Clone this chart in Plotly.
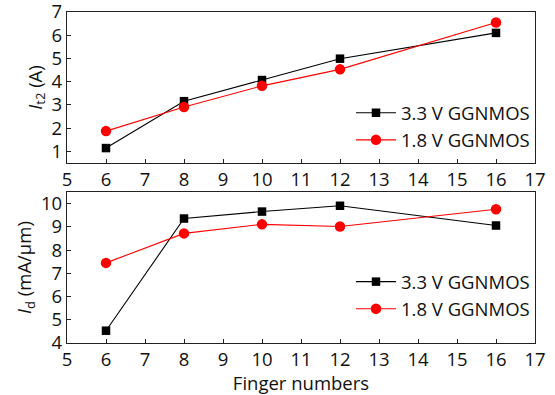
import plotly.graph_objects as go

fingers = [6, 8, 10, 12, 16]
it2_33 = [1.14, 3.16, 4.07, 4.99, 6.10]
it2_18 = [1.87, 2.91, 3.82, 4.53, 6.55]
id_33 = [4.53, 9.36, 9.66, 9.91, 9.06]
id_18 = [7.45, 8.72, 9.11, 9.02, 9.76]
names = ["3.3 V GGNMOS", "1.8 V GGNMOS"]

FONT = "Open Sans"
FS = 18.5
fig = go.Figure()

def add(y, name, color, symbol, xa, ya, legend, size):
    fig.add_trace(go.Scatter(
        x=fingers, y=y, name=name, mode="lines+markers",
        line=dict(color=color, width=1.1),
        marker=dict(color=color, symbol=symbol, size=size),
        xaxis=xa, yaxis=ya, legend=legend))

add(it2_33, names[0], "black", "square", "x", "y", "legend", 8.5)
add(it2_18, names[1], "red", "circle", "x", "y", "legend", 10.5)
add(id_33, names[0], "black", "square", "x2", "y2", "legend2", 8.5)
add(id_18, names[1], "red", "circle", "x2", "y2", "legend2", 10.5)

axis_common = dict(showline=True, linecolor="#222", linewidth=1.3, mirror=True,
                   ticks="inside", ticklen=4, tickcolor="#222", showgrid=False,
                   zeroline=False, automargin=False,
                   tickfont=dict(size=FS, color="#111"))

fig.update_layout(
    width=555, height=395,
    margin=dict(l=67, r=20, t=12, b=52),
    plot_bgcolor="white", paper_bgcolor="white",
    font=dict(family=FONT, color="#111", size=FS),
    xaxis=dict(domain=[0, 1], anchor="y", range=[5, 17], dtick=1, **axis_common),
    yaxis=dict(domain=[0.544, 1], anchor="x", range=[0.5, 7], dtick=1,
               ticklabeloverflow="allow",
               title=dict(text="<i>I</i><sub>t2</sub> (A)", standoff=4, font=dict(size=FS)),
               **axis_common),
    xaxis2=dict(domain=[0, 1], anchor="y2", range=[5, 17], dtick=1,
                title=dict(text="Finger numbers", standoff=2, font=dict(size=FS)),
                **axis_common),
    yaxis2=dict(domain=[0, 0.456], anchor="x2", range=[4, 10.5], dtick=1,
                title=dict(text="<i>I</i><sub>d</sub> (mA/μm)", standoff=4, font=dict(size=FS)),
                **axis_common),
    legend=dict(x=1.0, xanchor="right", y=0.555, yanchor="bottom",
                bgcolor="rgba(0,0,0,0)", font=dict(size=FS), tracegroupgap=0,
                itemwidth=40),
    legend2=dict(x=1.0, xanchor="right", y=0.045, yanchor="bottom",
                 bgcolor="rgba(0,0,0,0)", font=dict(size=FS), tracegroupgap=0,
                 itemwidth=40),
)

fig.write_html("out.html", config={"displayModeBar": False},
               post_script="document.body.style.margin='0';document.body.style.padding='0';")
